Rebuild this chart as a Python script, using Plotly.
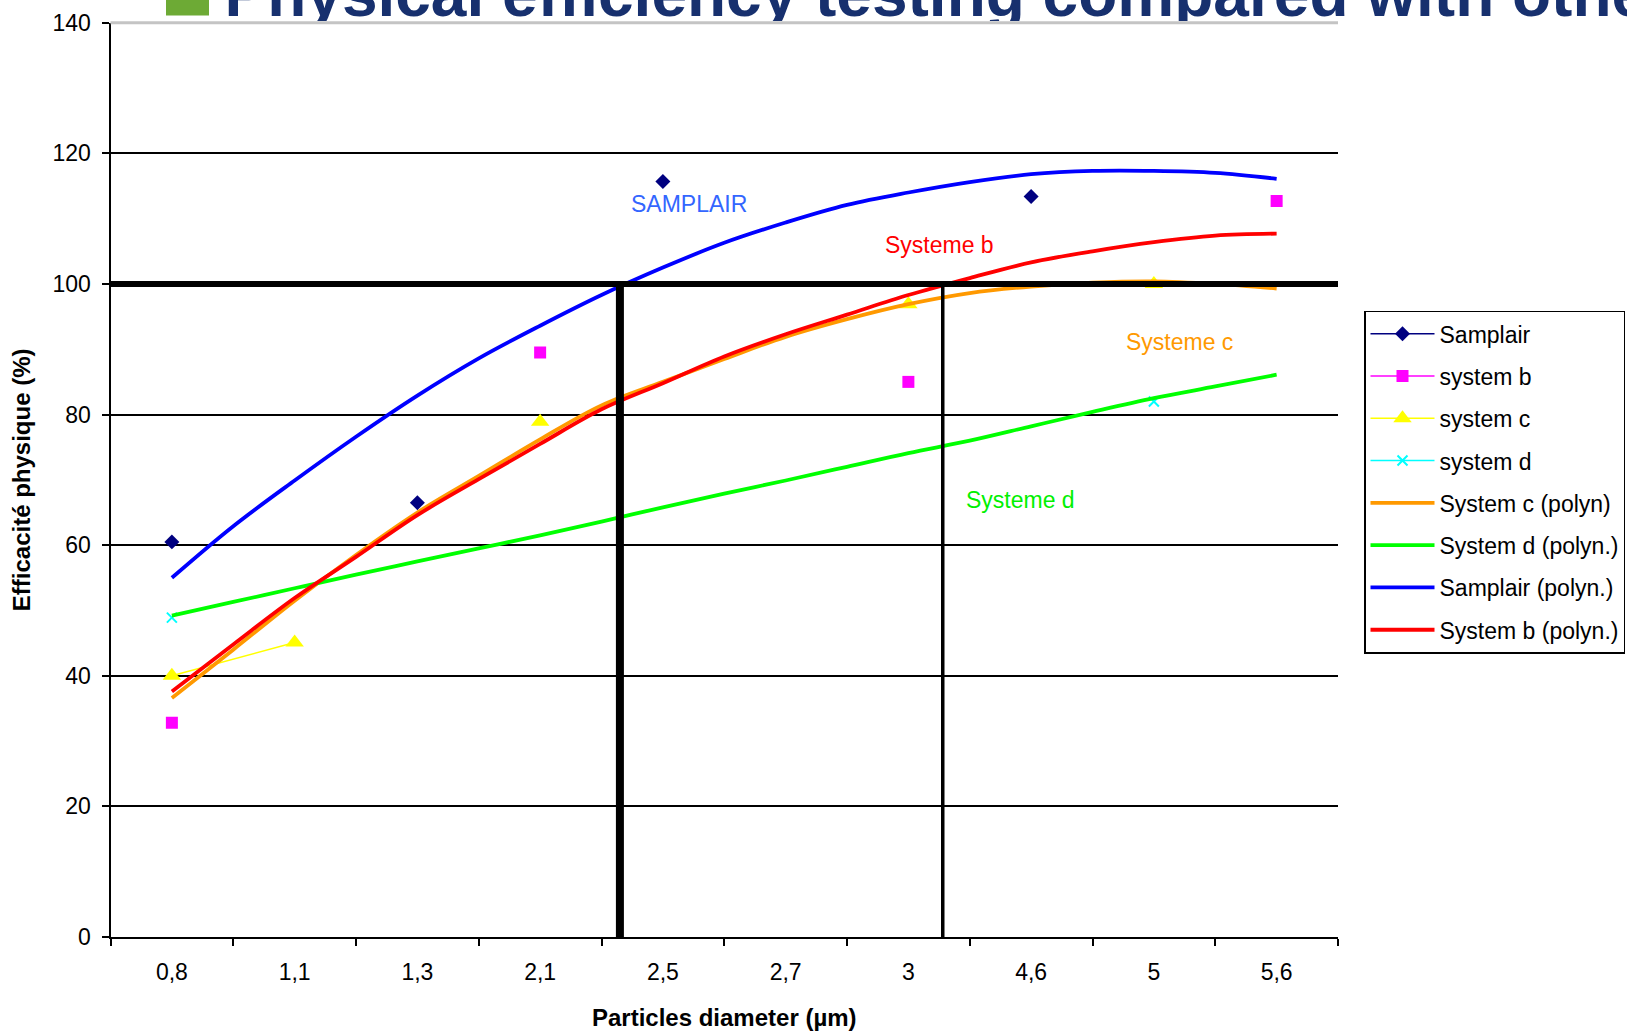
import plotly.graph_objects as go

# ---------------- data ----------------
categories = ["0,8", "1,1", "1,3", "2,1", "2,5", "2,7", "3", "4,6", "5", "5,6"]

samplair = [60.5, None, 66.5, None, 115.7, None, None, 113.4, None, None]
system_b = [32.8, None, None, 89.5, None, None, 85.0, None, None, 112.7]
system_c = [40.0, 45.1, None, 78.9, None, None, 96.9, None, 100.0, None]
system_d = [48.9, None, None, None, None, None, None, None, 82.0, None]

# polynomial trend lines (position = category index)
trend_pos = [0, 0.5, 1, 1.5, 2, 2.5, 3, 3.5, 4, 4.5, 5, 5.5, 6, 6.5, 7, 7.5, 8, 8.5, 9]
samplair_poly = [55.0, 62.9, 69.9, 76.6, 82.9, 88.6, 93.6, 98.3, 102.5, 106.3, 109.4,
                 112.1, 114.0, 115.6, 116.8, 117.3, 117.3, 117.0, 116.1]
system_b_poly = [37.6, 44.8, 51.9, 58.2, 64.6, 70.1, 75.5, 80.8, 84.8, 88.9, 92.3,
                 95.3, 98.3, 100.9, 103.3, 105.0, 106.4, 107.4, 107.7]
system_c_poly = [36.6, 44.0, 51.5, 58.5, 65.0, 70.6, 76.2, 81.4, 85.0, 88.5, 91.9,
                 94.6, 96.9, 98.6, 99.6, 100.2, 100.4, 100.0, 99.3]
system_d_poly = [49.2, 51.3, 53.4, 55.5, 57.5, 59.5, 61.5, 63.6, 65.8, 67.9, 69.9,
                 72.0, 74.1, 76.0, 78.2, 80.4, 82.5, 84.3, 86.1]

threshold = 100
samplair_cross = 3.65
system_b_cross = 6.28

y_ticks = [0, 20, 40, 60, 80, 100, 120, 140]

labels = ["SAMPLAIR", "Systeme b", "Systeme c", "Systeme d"]
label_pos = [4.21, 6.25, 8.21, 6.91]
label_val = [112.3, 106.0, 91.1, 66.9]
label_col = ["#3366FF", "#FF0000", "#FF9900", "#00F000"]

title_text = "Physical efficiency testing compared with other systems"

# ---------------- layout geometry ----------------
W, H = 1627, 1032
plot_l, plot_r, plot_t, plot_b = 110.5, 1338.0, 22.7, 937.0
xdom = [plot_l / W, plot_r / W]
ydom = [1 - plot_b / H, 1 - plot_t / H]
FONT = "Liberation Sans, Arial, sans-serif"

fig = go.Figure()

# point series (category axis)
fig.add_trace(go.Scatter(x=categories, y=samplair, name="Samplair", mode="lines+markers",
                         line=dict(color="#000080", width=1.5),
                         marker=dict(symbol="diamond", size=11.5, color="#000080"),
                         legendgroup="g1", legendrank=1))
fig.add_trace(go.Scatter(x=categories, y=system_b, name="system b", mode="lines+markers",
                         line=dict(color="#FF00FF", width=1.5),
                         marker=dict(symbol="square", size=12, color="#FF00FF"),
                         legendgroup="g2", legendrank=2))
fig.add_trace(go.Scatter(x=categories, y=system_c, name="system c", mode="lines+markers",
                         line=dict(color="#FFFF00", width=1.5),
                         marker=dict(symbol="triangle-up", size=16, color="#FFFF00"),
                         legendgroup="g3", legendrank=3))
fig.add_trace(go.Scatter(x=categories, y=system_d, name="system d", mode="lines+markers",
                         line=dict(color="#00FFFF", width=1.5),
                         marker=dict(symbol="x-thin", size=10, color="#00FFFF",
                                     line=dict(color="#00FFFF", width=2)),
                         legendgroup="g4", legendrank=4))

# trend lines (linear overlay axis)
trend_specs = [
    ("System c (polyn)", system_c_poly, "#FF9900", 5),
    ("System d (polyn.)", system_d_poly, "#00FF00", 6),
    ("Samplair (polyn.)", samplair_poly, "#0000FF", 7),
    ("System b (polyn.)", system_b_poly, "#FF0000", 8),
]
for name, vals, col, rank in trend_specs:
    fig.add_trace(go.Scatter(x=trend_pos, y=vals, name=name, mode="lines",
                             line=dict(color=col, width=3.8, shape="spline", smoothing=1),
                             xaxis="x2", yaxis="y",
                             legendgroup="g%d" % rank, legendrank=rank))

# reference lines
fig.add_trace(go.Scatter(x=[-0.5, 9.5], y=[threshold, threshold], mode="lines",
                         line=dict(color="black", width=6), xaxis="x2", yaxis="y",
                         showlegend=False, hoverinfo="skip"))
fig.add_trace(go.Scatter(x=[samplair_cross, samplair_cross], y=[0, threshold], mode="lines",
                         line=dict(color="black", width=8), xaxis="x2", yaxis="y",
                         showlegend=False, hoverinfo="skip"))
fig.add_trace(go.Scatter(x=[system_b_cross, system_b_cross], y=[0, threshold], mode="lines",
                         line=dict(color="black", width=3.5), xaxis="x2", yaxis="y",
                         showlegend=False, hoverinfo="skip"))

# clipped slide title (top strip)
fig.add_trace(go.Scatter(x=[224.5], y=[21.3], mode="text", text=[title_text],
                         textposition="middle right", cliponaxis=True,
                         textfont=dict(family=FONT, size=64, color="#17306E", weight="bold"),
                         xaxis="x3", yaxis="y3", showlegend=False, hoverinfo="skip"))

annotations = []
for t, xp, yv, c in zip(labels, label_pos, label_val, label_col):
    annotations.append(dict(text=t, x=xp, y=yv, xref="x2", yref="y", showarrow=False,
                            font=dict(family=FONT, size=23, color=c),
                            xanchor="center", yanchor="middle"))

shapes = [
    # green bullet
    dict(type="rect", xref="paper", yref="paper", x0=166 / W, x1=209 / W,
         y0=1 - 15.5 / H, y1=1 + 30 / H, fillcolor="#6DAA35", line=dict(width=0), layer="above"),
    # light top gridline
    dict(type="line", xref="x domain", yref="y domain", x0=0, x1=1, y0=1, y1=1,
         line=dict(color="#C4C4C4", width=3), layer="above"),
]

fig.update_layout(
    width=W, height=H,
    margin=dict(l=0, r=0, t=0, b=0, pad=0, autoexpand=False),
    paper_bgcolor="white", plot_bgcolor="white",
    font=dict(family=FONT, size=23, color="black"),
    showlegend=True,
    legend=dict(x=1364 / W, y=1 - 310.7 / H, xanchor="left", yanchor="top",
                bordercolor="black", borderwidth=1.5, bgcolor="white",
                font=dict(family=FONT, size=23, color="black"),
                traceorder="grouped", tracegroupgap=9.4, itemwidth=64),
    xaxis=dict(type="category", categoryorder="array", categoryarray=categories,
               range=[-0.5, 9.5], domain=xdom, anchor="y",
               showline=True, linecolor="black", linewidth=2,
               ticks="outside", tickson="boundaries", ticklen=7, tickwidth=2, tickcolor="black",
               tickfont=dict(family=FONT, size=23, color="black"), ticklabelstandoff=13,
               showgrid=False, zeroline=False,
               title=dict(text="<b>Particles diameter (µm)</b>",
                          font=dict(family=FONT, size=24, color="black"), standoff=26)),
    xaxis2=dict(overlaying="x", range=[-0.5, 9.5], visible=False, anchor="y"),
    yaxis=dict(range=[0, 140], domain=ydom, anchor="x", tickvals=y_ticks,
               showline=True, linecolor="black", linewidth=2,
               ticks="outside", ticklen=7, tickwidth=2, tickcolor="black",
               tickfont=dict(family=FONT, size=23, color="black"), ticklabelstandoff=6,
               showgrid=True, gridcolor="black", gridwidth=1.8, zeroline=False,
               title=dict(text="<b>Efficacité physique (%)</b>",
                          font=dict(family=FONT, size=24, color="black"), standoff=15)),
    xaxis3=dict(domain=[0, 1], range=[0, W], visible=False, anchor="y3", fixedrange=True),
    yaxis3=dict(domain=[1 - 21 / H, 1], range=[0, 21], visible=False, anchor="x3", fixedrange=True),
    annotations=annotations,
    shapes=shapes,
)

fig.write_html("out.html",
               config={"displayModeBar": False},
               post_script="document.body.style.margin='0';document.body.style.padding='0';")
